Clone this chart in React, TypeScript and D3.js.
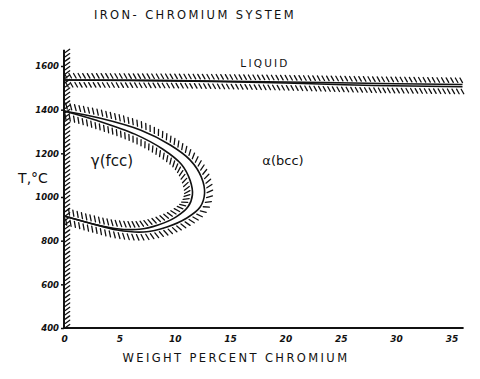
import React, { useEffect, useRef } from 'react';
import * as d3 from 'd3';

const W = 480;
const H = 379;

// axis ticks
const xTicks = [0, 5, 10, 15, 20, 25, 30, 35];
const xTickLabels = ['0', '5', '10', '15', '20', '25', '30', '35'];
const yTicks = [400, 600, 800, 1000, 1200, 1400, 1600];

// phase boundaries: [wt% Cr, T in °C]
const liquidus: [number, number][] = [[0, 1536], [10, 1533], [20, 1527], [30, 1519], [36, 1515]];
const solidus: [number, number][] = [[0, 1536], [10, 1532], [20, 1522], [28, 1511], [36, 1505]];
const loopOuter: [number, number][] = [
  [0, 1394], [3.2, 1362], [6.9, 1307], [9.6, 1238], [11.4, 1169], [12.4, 1092],
  [12.7, 1017], [12.3, 954], [11.1, 904], [9.3, 863], [7.2, 840], [4.8, 849],
  [2.3, 881], [0, 913],
];
const loopInner: [number, number][] = [
  [0, 1394], [3.0, 1350], [6.4, 1288], [8.9, 1220], [10.6, 1150], [11.4, 1075],
  [11.6, 1010], [11.2, 955], [10.1, 908], [8.5, 872], [6.8, 852], [4.6, 856],
  [2.2, 882], [0, 913],
];

export default function App() {
  const ref = useRef<SVGSVGElement>(null);

  useEffect(() => {
    const svg = d3.select(ref.current);
    svg.selectAll('*').remove();

    const x = d3.scaleLinear().domain([0, 36]).range([64, 462.5]);
    const y = d3.scaleLinear().domain([400, 1600]).range([328, 66]);

    const line = d3.line<[number, number]>()
      .x(d => x(d[0]))
      .y(d => y(d[1]))
      .curve(d3.curveCatmullRom.alpha(0.5));

    const ink = '#111';

    // short slanted strokes along one side of a path
    function hatch(node: SVGPathElement, side: number, step: number, off: number, len: number, skew: number) {
      const total = node.getTotalLength();
      const g = svg.append('g').attr('stroke', ink).attr('stroke-width', 1.3).attr('stroke-linecap', 'round');
      for (let l = step / 2; l < total; l += step) {
        const p = node.getPointAtLength(l);
        const a = node.getPointAtLength(Math.max(0, l - 0.5));
        const b = node.getPointAtLength(Math.min(total, l + 0.5));
        let tx = b.x - a.x, ty = b.y - a.y;
        const n = Math.hypot(tx, ty) || 1;
        tx /= n; ty /= n;
        const nx = -ty * side, ny = tx * side;
        const s = skew * side;
        g.append('line')
          .attr('x1', p.x + nx * off - tx * s * 0.3)
          .attr('y1', p.y + ny * off - ty * s * 0.3)
          .attr('x2', p.x + nx * (off + len) + tx * s)
          .attr('y2', p.y + ny * (off + len) + ty * s);
      }
    }

    // axes lines
    svg.append('line').attr('x1', x(0)).attr('x2', x(0)).attr('y1', y(400)).attr('y2', y(1675))
      .attr('stroke', ink).attr('stroke-width', 2);
    svg.append('line').attr('x1', x(0)).attr('x2', x(36.1)).attr('y1', y(400)).attr('y2', y(400))
      .attr('stroke', ink).attr('stroke-width', 2);

    // hatching along the pure-iron axis
    const yAxisPath = svg.append('path')
      .attr('d', `M${x(0)},${y(1675)}L${x(0)},${y(400)}`)
      .attr('fill', 'none').attr('stroke', 'none');
    hatch(yAxisPath.node() as SVGPathElement, -1, 4.3, 1.2, 4.5, 2.5);

    // liquidus / solidus
    const liq = svg.append('path').attr('d', line(liquidus)).attr('fill', 'none').attr('stroke', ink).attr('stroke-width', 1.6);
    const sol = svg.append('path').attr('d', line(solidus)).attr('fill', 'none').attr('stroke', ink).attr('stroke-width', 1.6);
    hatch(liq.node() as SVGPathElement, -1, 4.6, 2, 4.5, 2);
    hatch(sol.node() as SVGPathElement, 1, 4.6, 2.5, 4.5, 2);

    // gamma loop
    const outer = svg.append('path').attr('d', line(loopOuter)).attr('fill', 'none').attr('stroke', ink).attr('stroke-width', 1.6);
    const inner = svg.append('path').attr('d', line(loopInner)).attr('fill', 'none').attr('stroke', ink).attr('stroke-width', 1.6);
    hatch(outer.node() as SVGPathElement, -1, 4.5, 2.5, 5.5, 2);
    hatch(inner.node() as SVGPathElement, 1, 4.5, 2.5, 5.5, 2);

    // ticks and labels
    const tickFont = 'DejaVu Sans';
    const yAxis = svg.append('g').attr('transform', `translate(${x(0)},0)`)
      .call(d3.axisLeft(y).tickValues(yTicks).tickSize(3).tickPadding(2).tickFormat(d3.format('d')));
    yAxis.select('.domain').remove();
    yAxis.selectAll('text').attr('font-family', tickFont).attr('font-style', 'italic')
      .attr('font-weight', 'bold').attr('font-size', 8.5).attr('fill', ink);
    yAxis.selectAll('line').attr('stroke', ink).attr('stroke-width', 1.5);

    const xAxis = svg.append('g').attr('transform', `translate(0,${y(400)})`)
      .call(d3.axisBottom(x).tickValues(xTicks).tickSize(0).tickPadding(8)
        .tickFormat((d, i) => xTickLabels[i]));
    xAxis.select('.domain').remove();
    xAxis.selectAll('text').attr('font-family', tickFont).attr('font-style', 'italic')
      .attr('font-weight', 'bold').attr('font-size', 9).attr('fill', ink);

    const txt = (s: string, tx: number, ty: number, size: number, spacing = 0, anchor = 'middle') =>
      svg.append('text').attr('x', tx).attr('y', ty).attr('text-anchor', anchor)
        .attr('dominant-baseline', 'central')
        .attr('font-family', 'DejaVu Sans').attr('font-size', size)
        .attr('letter-spacing', spacing).attr('fill', ink).text(s);

    txt('IRON- CHROMIUM SYSTEM', 195, 15, 11.5, 2.4);
    txt('LIQUID', 265, 63, 10.5, 2.2);
    txt('T,°C', 33, 178, 14);
    txt('γ(fcc)', 112, 161, 15);
    txt('α(bcc)', 283, 160, 13);
    txt('WEIGHT PERCENT CHROMIUM', 236, 358, 11.5, 2.4);
  }, []);

  return (
    <svg ref={ref} width={W} height={H}
      style={{ position: 'absolute', left: 0, top: 0, background: '#fff' }} />
  );
}
